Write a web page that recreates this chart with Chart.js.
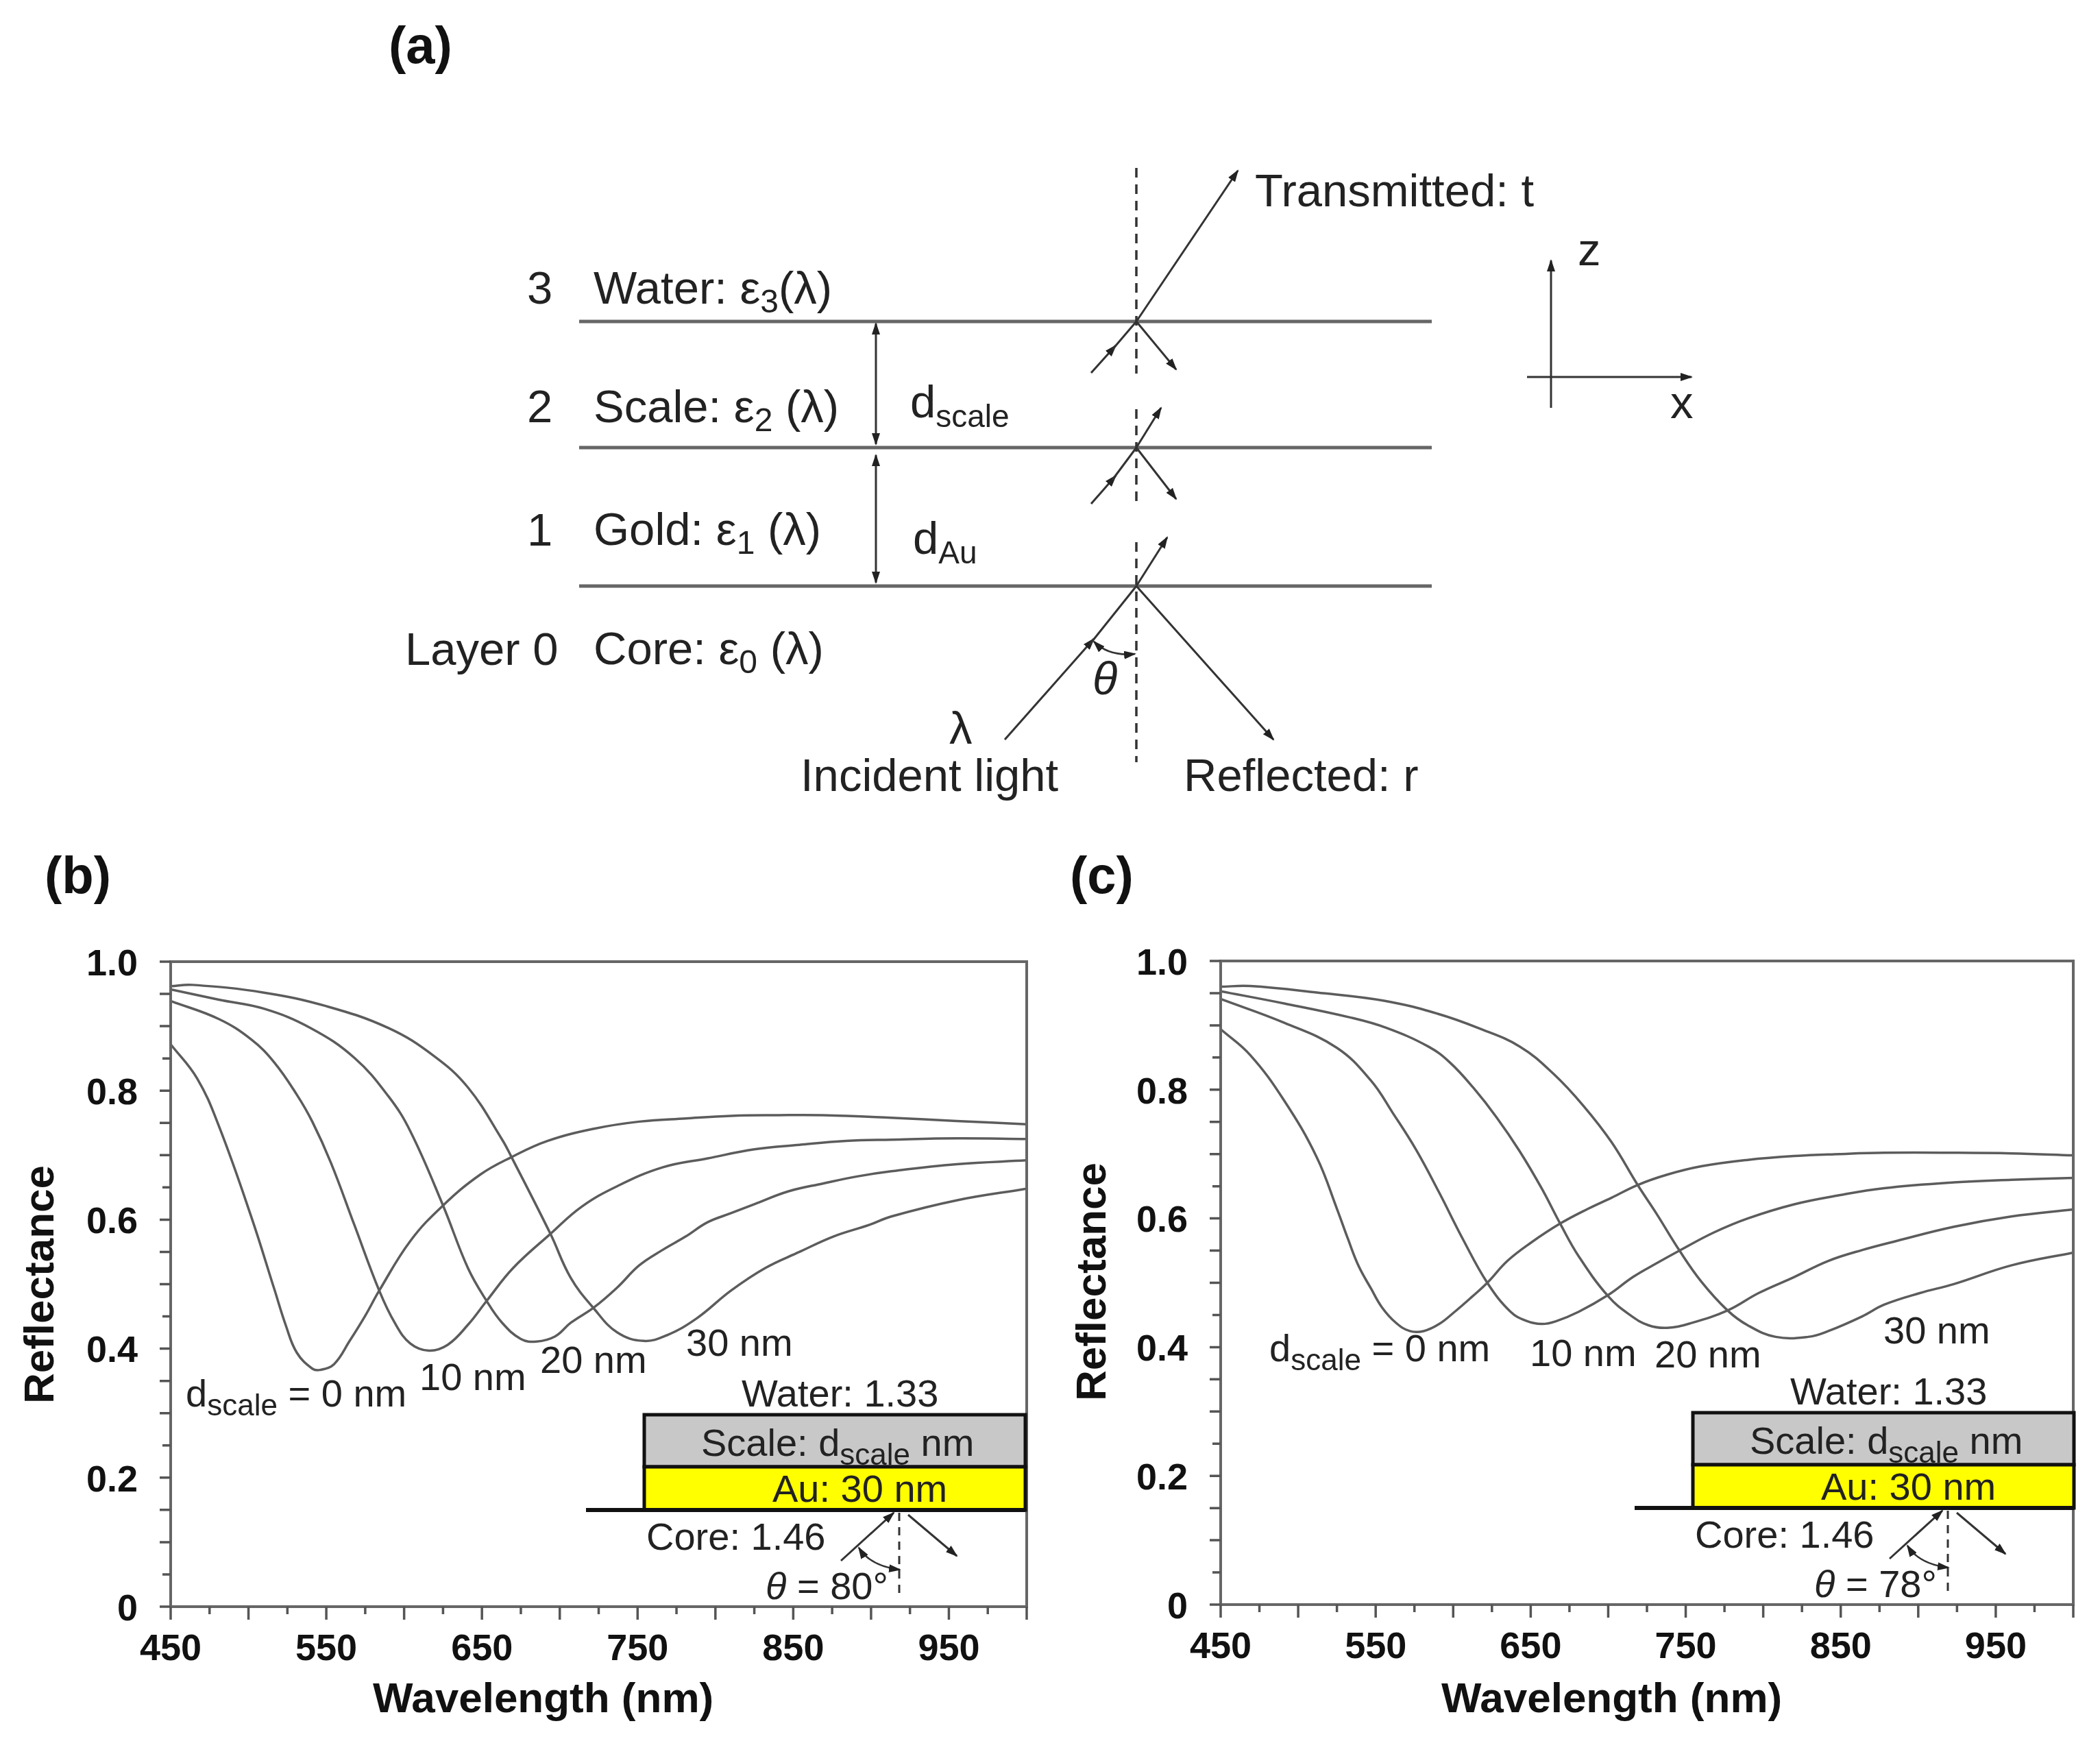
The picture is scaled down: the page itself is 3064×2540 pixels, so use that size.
<!DOCTYPE html>
<html>
<head>
<meta charset="utf-8">
<title>Reflectance</title>
<script src="https://cdn.jsdelivr.net/npm/chart.js@4"></script>
<style>
  html, body { margin: 0; padding: 0; background: #fff; }
  body { position: relative; width: 3064px; height: 2540px; overflow: hidden; }
  canvas { position: absolute; top: 1300px; }
  #chartB { left: 0; }
  #chartC { left: 1530px; }
  svg { position: absolute; left: 0; top: 0; pointer-events: none; }
  text { font-family: "Liberation Sans", Arial, sans-serif; fill: #222; }
</style>
</head>
<body>
<canvas id="chartB" width="1530" height="1240"></canvas>
<canvas id="chartC" width="1534" height="1240"></canvas>
<svg id="overlay" width="3064" height="2540" viewBox="0 0 3064 2540"></svg>
<script>
const xTickLabels = [450, 550, 650, 750, 850, 950];
const yTickLabels = ['0', '0.2', '0.4', '0.6', '0.8', '1.0'];

// panel (b), theta = 80, [wavelength, reflectance]
const b0 = [[450,.872],[467,.819],[481,.745],[502,.603],[516.5,.493],[524,.436],[531,.394],[541,.369],[546,.367],[555,.376],[565,.412],[575,.451],[584,.490],[604,.567],[625,.622],[649,.670],[669,.697],[692,.722],[722,.741],[751,.752],[781,.757],[810,.761],[839,.762],[869,.762],[913,.758],[955,.753],[1000,.748]];
const b10 = [[450,.939],[481,.911],[502,.879],[516.5,.844],[531,.794],[541,.752],[553,.688],[568,.592],[584,.490],[594,.440],[604,.408],[616,.397],[628,.406],[641,.437],[653,.474],[670,.525],[694,.578],[714,.620],[737,.652],[766,.681],[795,.695],[825,.709],[854,.716],[884,.722],[913,.724],[955,.726],[1000,.725]];
const b20 = [[450,.957],[481,.941],[510,.927],[540,.897],[568,.851],[590,.791],[604,.737],[625,.622],[641,.525],[653,.474],[663,.440],[675,.415],[685,.411],[697,.419],[707,.440],[722,.464],[737,.495],[751,.529],[766,.553],[781,.574],[795,.596],[810,.610],[825,.624],[847,.644],[869,.656],[891,.667],[913,.675],[955,.686],[1000,.692]];
const b30 = [[450,.962],[464,.964],[510,.952],[550,.931],[590,.897],[619,.854],[641,.805],[663,.724],[669,.697],[694,.578],[707,.510],[722,.462],[737,.425],[754,.412],[769,.421],[788,.447],[810,.490],[832,.525],[854,.550],[876,.574],[899,.592],[913,.605],[955,.630],[1000,.648]];

// panel (c), theta = 78
const c0 = [[450,.894],[469,.854],[491,.783],[512,.695],[525,.615],[532,.569],[539,.526],[547,.491],[554,.462],[563,.438],[572,.425],[581,.425],[591,.436],[601,.455],[612,.478],[622,.500],[635,.534],[650,.562],[669,.592],[687,.615],[702,.632],[719,.652],[738,.668],[760,.681],[790,.691],[820,.697],[849,.700],[878,.702],[923,.702],[960,.701],[1000,.698]];
const c10 = [[450,.941],[491,.904],[525,.865],[547,.814],[561,.764],[576,.707],[591,.640],[606,.569],[622,.500],[637,.455],[647,.441],[657,.436],[666,.440],[681,.455],[700,.481],[716,.509],[731,.530],[746,.550],[768,.578],[790,.600],[820,.622],[849,.636],[878,.647],[923,.656],[960,.660],[1000,.663]];
const c20 = [[450,.953],[491,.934],[534,.912],[557,.896],[584,.867],[598,.842],[613,.803],[628,.757],[643,.704],[657,.647],[669,.592],[681,.541],[700,.479],[714,.450],[726,.434],[738,.430],[753,.437],[777,.457],[797,.484],[820,.509],[842,.534],[864,.551],[886,.565],[923,.587],[960,.603],[1000,.614]];
const c30 = [[450,.960],[469,.961],[512,.951],[556,.938],[590,.918],[616,.896],[643,.867],[665,.824],[684,.775],[702,.719],[719,.652],[731,.608],[746,.550],[760,.502],[777,.457],[790,.434],[808,.416],[829,.416],[842,.425],[864,.448],[878,.466],[901,.484],[923,.498],[960,.527],[1000,.547]];

const lineColor = '#5c5c5c';
const axisColor = '#666';

// chart.js has a single tick length per axis, the long/short ticks and the box go here
const frameTicks = {
    id: 'frameTicks',
    afterDraw(chart) {
        const { ctx, chartArea: a, scales: { x, y } } = chart;
        ctx.save();
        ctx.strokeStyle = axisColor;
        ctx.lineWidth = 4;
        ctx.strokeRect(a.left, a.top, a.right - a.left, a.bottom - a.top);
        ctx.strokeStyle = '#555';
        ctx.lineWidth = 3.5;
        ctx.beginPath();
        x.ticks.forEach((t, i) => {
            const px = x.getPixelForValue(t.value);
            ctx.moveTo(px, a.bottom);
            ctx.lineTo(px, a.bottom + (i % 2 ? 11 : 19));
        });
        y.ticks.forEach((t, i) => {
            const py = y.getPixelForValue(t.value);
            ctx.moveTo(a.left, py);
            ctx.lineTo(a.left - (i % 4 === 1 ? 12 : 16), py);
        });
        ctx.stroke();
        ctx.restore();
    },
};

function initReflectanceChart(canvasId, series, box) {
    const ctx = document.getElementById(canvasId);
    return new Chart(ctx, {
        type: 'line',
        data: {
            datasets: series.map((s, i) => ({
                label: ['0 nm', '10 nm', '20 nm', '30 nm'][i],
                data: s.map(p => ({ x: p[0], y: p[1] })),
                borderColor: lineColor,
                borderWidth: 3.5,
                pointRadius: 0,
                tension: 0.4,
            })),
        },
        options: {
            responsive: false,
            animation: false,
            devicePixelRatio: 1,
            layout: { padding: { top: box.top, right: box.right, left: 0, bottom: 0 } },
            plugins: { legend: { display: false }, tooltip: { enabled: false } },
            scales: {
                x: {
                    type: 'linear',
                    min: 450,
                    max: 1000,
                    grid: { display: false },
                    border: { display: false },
                    ticks: {
                        stepSize: 25,
                        autoSkip: false,
                        maxRotation: 0,
                        padding: 23,
                        color: '#111',
                        font: { family: 'Liberation Sans', size: 54, weight: 'bold' },
                        callback: v => xTickLabels.includes(v) ? String(v) : '',
                    },
                    afterFit: scale => { scale.height = box.xHeight; },
                },
                y: {
                    min: 0,
                    max: 1,
                    grid: { display: false },
                    border: { display: false },
                    ticks: {
                        stepSize: 0.05,
                        autoSkip: false,
                        padding: 40,
                        color: '#111',
                        // empty first line + small line height nudges the label down a few px
                        font: { family: 'Liberation Sans', size: 54, weight: 'bold', lineHeight: 0.185 },
                        callback: (v, i) => i % 4 ? '' : ['', yTickLabels[i / 4]],
                    },
                    afterFit: scale => { scale.width = box.yWidth; },
                },
            },
        },
        plugins: [frameTicks],
    });
}

initReflectanceChart('chartB', [b0, b10, b20, b30], { top: 103, right: 32, xHeight: 196, yWidth: 249 });
initReflectanceChart('chartC', [c0, c10, c20, c30], { top: 102, right: 39, xHeight: 199, yWidth: 251 });

// everything that is not data: schematic, inset, labels
const sub = (s, dy, size) => `<tspan dy="${dy}" font-size="${size}">${s}</tspan><tspan dy="${-dy}">&#8203;</tspan>`;
const txt = (x, y, size, inner, extra = '') => `<text x="${x}" y="${y}" font-size="${size}" ${extra}>${inner}</text>`;
const line = (x1, y1, x2, y2, w, color, extra = '') => `<line x1="${x1}" y1="${y1}" x2="${x2}" y2="${y2}" stroke="${color}" stroke-width="${w}" ${extra}/>`;
const arrow = 'marker-end="url(#head)"';
const dash = 'stroke-dasharray="14 10"';

function inset(dx, dy, angle) {
    const k = '#111';
    const ray = '#333';
    return `<g transform="translate(${dx} ${dy})">
    <rect x="940" y="2064" width="556" height="76" fill="#c8c8c8" stroke="${k}" stroke-width="5"/>
    <rect x="940" y="2140" width="556" height="63" fill="#ffff00" stroke="${k}" stroke-width="5"/>
    ${line(855, 2203, 1496, 2203, 6, k)}
    ${txt(1082, 2052, 56, 'Water: 1.33')}
    ${txt(1023, 2124, 56, `Scale: d${sub('scale', 13, 44)} nm`)}
    ${txt(1127, 2191, 56, 'Au: 30 nm')}
    ${txt(943, 2261, 56, 'Core: 1.46')}
    ${txt(1117, 2333, 56, `<tspan font-style="italic">θ</tspan> = ${angle}°`)}
    ${line(1227, 2277, 1304, 2207, 3, ray, arrow)}
    ${line(1325, 2210, 1396, 2270, 3, ray, arrow)}
    ${line(1312, 2207, 1312, 2332, 3, ray, 'stroke-dasharray="12 9"')}
    <path d="M1253 2258 Q1270 2285 1313 2290" fill="none" stroke="${ray}" stroke-width="2.5" marker-start="url(#headStart)" marker-end="url(#head)"/>
    </g>`;
}

function schematic() {
    const g = '#666';
    const k = '#333';
    const big = 67;
    return `
    ${line(845, 469, 2089, 469, 5, g)}
    ${line(845, 653, 2089, 653, 5, g)}
    ${line(845, 855, 2089, 855, 5, g)}
    ${line(1658, 245, 1658, 545, 3.5, k, dash)}
    ${line(1658, 597, 1658, 739, 3.5, k, dash)}
    ${line(1658, 791, 1658, 1112, 3.5, k, dash)}
    ${line(1658, 469, 1806, 249, 3, k, arrow)}
    ${line(1592, 544, 1628, 504, 3, k, arrow)}
    ${line(1623, 510, 1658, 469, 3, k)}
    ${line(1658, 469, 1716, 539, 3, k, arrow)}
    ${line(1658, 653, 1694, 595, 3, k, arrow)}
    ${line(1592, 735, 1628, 694, 3, k, arrow)}
    ${line(1623, 700, 1658, 653, 3, k)}
    ${line(1658, 653, 1716, 728, 3, k, arrow)}
    ${line(1658, 855, 1703, 784, 3, k, arrow)}
    ${line(1466, 1079, 1596, 932, 3, k, arrow)}
    ${line(1590, 940, 1658, 855, 3, k)}
    ${line(1658, 855, 1858, 1079, 3, k, arrow)}
    <path d="M1596 936 Q1618 958 1656 954" fill="none" stroke="${k}" stroke-width="2.5" marker-start="url(#headStart)" marker-end="url(#head)"/>
    ${line(1278, 472, 1278, 648, 3, k, 'marker-start="url(#headStart)" marker-end="url(#head)"')}
    ${line(1278, 664, 1278, 850, 3, k, 'marker-start="url(#headStart)" marker-end="url(#head)"')}
    ${line(2263, 595, 2263, 380, 3, k, arrow)}
    ${line(2228, 550, 2468, 550, 3, k, arrow)}
    ${txt(769, 443, big, '3')}
    ${txt(769, 616, big, '2')}
    ${txt(769, 796, big, '1')}
    ${txt(591, 970, big, 'Layer 0')}
    ${txt(866, 443, big, `Water: ε${sub('3', 13, 48)}(λ)`)}
    ${txt(866, 616, big, `Scale: ε${sub('2', 13, 48)} (λ)`)}
    ${txt(866, 795, big, `Gold: ε${sub('1', 13, 48)} (λ)`)}
    ${txt(866, 969, big, `Core: ε${sub('0', 13, 48)} (λ)`)}
    ${txt(1328, 609, big, `d${sub('scale', 14, 46)}`)}
    ${txt(1332, 808, big, `d${sub('Au', 14, 46)}`)}
    ${txt(1831, 301, big, 'Transmitted: t')}
    ${txt(2302, 387, big, 'z')}
    ${txt(2437, 610, big, 'x')}
    ${txt(1385, 1085, big, 'λ')}
    ${txt(1168, 1154, big, 'Incident light')}
    ${txt(1727, 1154, big, 'Reflected: r')}
    ${txt(1594, 1013, big, 'θ', 'font-style="italic"')}`;
}

function panelText() {
    const bold = 'font-weight="bold" style="fill:#111"';
    const d0 = `d${sub('scale', 13, 44)} = 0 nm`;
    return `
    ${txt(567, 92, 76, '(a)', bold)}
    ${txt(65, 1303, 76, '(b)', bold)}
    ${txt(1561, 1303, 76, '(c)', bold)}
    ${txt(544, 2498, 62, 'Wavelength (nm)', bold)}
    ${txt(2103, 2498, 62, 'Wavelength (nm)', bold)}
    ${txt(0, 0, 62, 'Reflectance', `${bold} text-anchor="middle" transform="translate(78 1874) rotate(-90)"`)}
    ${txt(0, 0, 62, 'Reflectance', `${bold} text-anchor="middle" transform="translate(1613 1870) rotate(-90)"`)}
    ${txt(271, 2052, 56, d0)}
    ${txt(612, 2028, 56, '10 nm')}
    ${txt(788, 2003, 56, '20 nm')}
    ${txt(1001, 1978, 56, '30 nm')}
    ${txt(1852, 1986, 56, d0)}
    ${txt(2232, 1993, 56, '10 nm')}
    ${txt(2414, 1995, 56, '20 nm')}
    ${txt(2748, 1960, 56, '30 nm')}`;
}

document.getElementById('overlay').innerHTML = `
<defs>
  <marker id="head" markerUnits="userSpaceOnUse" markerWidth="18" markerHeight="12" refX="16" refY="6" orient="auto"><path d="M0 0 L18 6 L0 12 Z" fill="#222"/></marker>
  <marker id="headStart" markerUnits="userSpaceOnUse" markerWidth="18" markerHeight="12" refX="2" refY="6" orient="auto"><path d="M18 0 L0 6 L18 12 Z" fill="#222"/></marker>
</defs>
${schematic()}
${inset(0, 0, 80)}
${inset(1530, -3, 78)}
${panelText()}`;
</script>
</body>
</html>
